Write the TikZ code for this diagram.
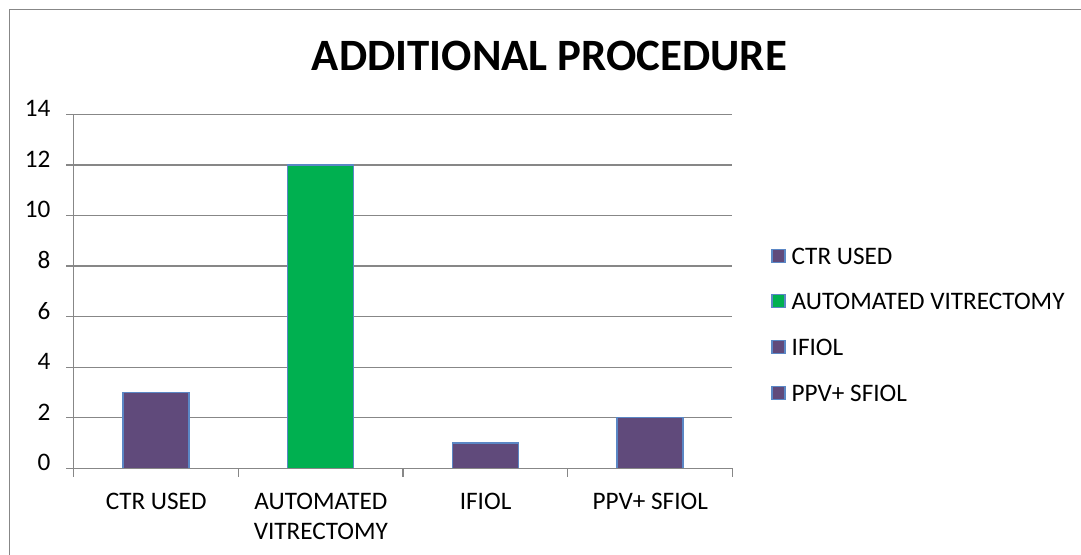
\documentclass[tikz,border=0pt]{standalone}
\usepackage{fontspec}
\setmainfont{Carlito}
\definecolor{barpurple}{HTML}{604A7B}
\definecolor{bargreen}{HTML}{00B050}
\definecolor{baredge}{HTML}{5B87C5}
\definecolor{gridgray}{HTML}{878787}
\begin{document}
\begin{tikzpicture}[x=1bp,y=-1bp,
  lbl/.style={font=\fontsize{25.3}{30}\selectfont, inner sep=0pt},
  grid line/.style={draw=gridgray, line width=1.3bp},
  bar/.style={draw=baredge, line width=1.3bp},
  keybox/.style={draw=baredge, line width=1.2bp, minimum size=13bp, inner sep=0pt}]
\useasboundingbox (0,0) rectangle (1081,555);
\fill[white] (0,0) rectangle (1081,555);
% outer frame
\draw[draw=gridgray, line width=1.3bp] (9.5,555) -- (9.5,9.5) -- (1081,9.5);
% title
\node[font=\fontsize{45}{52}\selectfont\bfseries, anchor=base, inner sep=0pt] (title) at (549.5,70.7) {ADDITIONAL PROCEDURE};
% gridlines and y labels
\foreach \v [count=\i from 0] in {0,2,...,14} {
  \pgfmathsetmacro{\yy}{468.3-\v*25.27}
  \draw[grid line] (66,\yy) -- (732.3,\yy);
  \node[lbl, anchor=mid east] (ylab\i) at (50.5,\yy) {\v};
}
% y axis
\draw[grid line] (73.5,114.5) -- (73.5,468.3);
% x ticks
\foreach \k in {0,1,2,3,4} {
  \draw[grid line] ({73.5+164.7*\k},468.3) -- ({73.5+164.7*\k},477);
}
% bars
\foreach \c/\v/\col [count=\i from 0] in {0/3/barpurple,1/12/bargreen,2/1/barpurple,3/2/barpurple} {
  \pgfmathsetmacro{\xc}{73.5+164.7*(\c+0.5)}
  \pgfmathsetmacro{\yt}{468.3-\v*25.27}
  \filldraw[bar, fill=\col] ({\xc-33},468.3) rectangle ({\xc+33},\yt);
}
% x-axis baseline redraw on top
\draw[grid line] (66,468.3) -- (732.3,468.3);
% category labels
\node[lbl, anchor=base] (cat1) at (156.2,509) {CTR USED};
\node[lbl, anchor=base] (cat2) at (320.9,509) {AUTOMATED};
\node[lbl, anchor=base] (cat2b) at (320.9,539) {VITRECTOMY};
\node[lbl, anchor=base] (cat3) at (485.6,509) {IFIOL};
\node[lbl, anchor=base] (cat4) at (650.3,509) {PPV+ SFIOL};
% legend
\foreach \t/\col/\yy [count=\i] in {CTR USED/barpurple/256, AUTOMATED VITRECTOMY/bargreen/301, IFIOL/barpurple/347.3, PPV+ SFIOL/barpurple/393.3} {
  \node[keybox, fill=\col] (key\i) at (778.5,\yy) {};
  \node[lbl, anchor=west] (leg\i) at (791.5,\yy) {\t};
}
\end{tikzpicture}
\end{document}
